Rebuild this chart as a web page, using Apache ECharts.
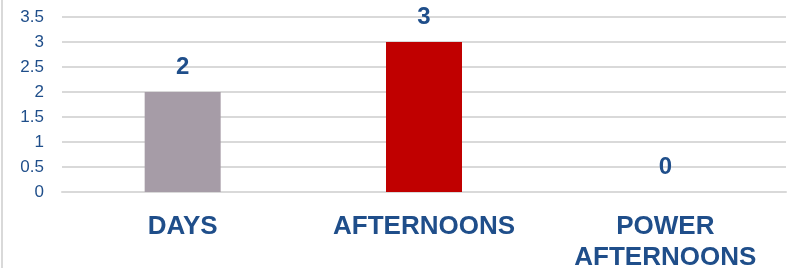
<!doctype html>
<html lang="en">
<head>
    <meta charset="UTF-8">
    <title>Chart</title>
    <style>
        html, body { margin: 0; padding: 0; background: #fff; }
        #main { width: 791px; height: 268px; }
    </style>
</head>
<body>
    <div id="main"></div>
</body>
<script src="https://cdn.jsdelivr.net/npm/echarts@6/dist/echarts.min.js"></script>
<script type="text/javascript">
    const categories = ['DAYS', 'AFTERNOONS', 'POWER\nAFTERNOONS']
    const values = [2, 3, 0]
    const barColors = ['#A69CA7', '#C00000', '#A69CA7']

    const textBlue = '#1F4E8A'
    const myChart = echarts.init(document.getElementById('main'))

    const option = {
        animation: false,
        textStyle: { fontFamily: 'Liberation Sans, Arial, sans-serif' },
        grid: { left: 62, right: 5, top: 17, bottom: 76, containLabel: false, outerBoundsMode: 'none' },
        graphic: [{
            type: 'rect',
            shape: { x: 1, y: 0, width: 2, height: 268 },
            style: { fill: '#D9D9D9' }
        }],
        xAxis: {
            type: 'category',
            data: categories,
            axisLine: { show: true, lineStyle: { color: '#D9D9D9', width: 2 } },
            axisTick: { show: false },
            axisLabel: {
                color: textBlue,
                fontSize: 26,
                fontWeight: 'bold',
                lineHeight: 31,
                margin: 19,
                verticalAlign: 'top'
            }
        },
        yAxis: {
            type: 'value',
            min: 0,
            max: 3.5,
            interval: 0.5,
            axisLine: { show: false },
            axisTick: { show: false },
            axisLabel: { color: textBlue, fontSize: 17, margin: 18 },
            splitLine: { lineStyle: { color: '#D9D9D9', width: 2 } }
        },
        series: [{
            type: 'bar',
            barWidth: 76,
            data: values.map((v, i) => ({ value: v, itemStyle: { color: barColors[i] } })),
            label: {
                show: true,
                position: 'top',
                distance: 13,
                color: textBlue,
                fontSize: 24,
                fontWeight: 'bold'
            }
        }]
    }
    myChart.setOption(option)
</script>
</html>
